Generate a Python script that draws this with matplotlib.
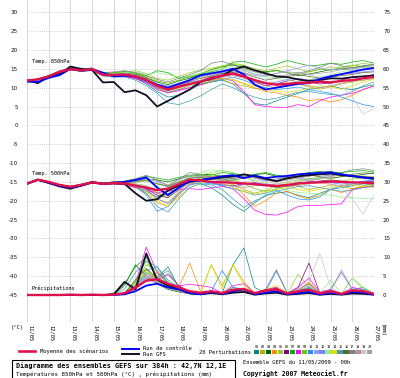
import matplotlib
matplotlib.use('Agg')
import matplotlib.pyplot as plt
from matplotlib.patches import Rectangle
from matplotlib.lines import Line2D
from matplotlib.transforms import blended_transform_factory, ScaledTranslation

# ---------------- data ----------------
hours = [0, 12, 24, 36, 48, 60, 72, 84, 96, 108, 120, 132, 144, 156, 168, 180, 192,
         204, 216, 228, 240, 252, 264, 276, 288, 300, 312, 324, 336, 348, 360, 372, 384]
date_labels = ["11/05", "12/05", "13/05", "14/05", "15/05", "16/05", "17/05", "18/05", "19/05",
               "20/05", "21/05", "22/05", "23/05", "24/05", "25/05", "26/05", "27/05"]
left_ticks = [30, 25, 20, 15, 10, 5, 0, -5, -10, -15, -20, -25, -30, -35, -40, -45]
right_ticks = [75, 70, 65, 60, 55, 50, 45, 40, 35, 30, 25, 20, 15, 10, 5, 0]

mean_850 = [11.9, 12.2, 13.0, 14.2, 14.9, 14.6, 14.9, 13.4, 13.4, 13.5, 13.0, 12.1, 10.5, 9.5, 10.3, 11.0, 11.6,
            12.6, 13.2, 13.8, 13.0, 12.0, 11.2, 10.8, 11.0, 11.3, 11.3, 11.6, 11.4, 11.8, 12.0, 12.5, 12.9]
ctrl_850 = [11.6, 11.5, 12.6, 13.3, 15.0, 14.5, 14.8, 14.0, 13.0, 13.2, 13.0, 12.0, 10.8, 10.0, 11.0, 12.0, 13.3,
            13.8, 14.3, 15.0, 13.5, 10.8, 9.5, 10.0, 10.5, 11.0, 11.2, 12.3, 13.0, 13.6, 14.2, 14.8, 15.2]
gfs_850 = [12.0, 11.2, 13.0, 13.6, 15.6, 15.0, 14.7, 11.4, 11.5, 8.8, 9.3, 8.0, 5.0, 6.5, 8.0, 9.5, 11.5,
           12.4, 13.2, 14.8, 15.6, 14.6, 13.8, 13.0, 12.8, 12.2, 11.8, 12.0, 12.5, 12.4, 12.8, 13.0, 13.2]

mean_500 = [-15.4, -14.4, -15.0, -15.8, -16.3, -15.8, -15.1, -15.5, -15.3, -15.4, -16.0, -16.5, -17.2, -16.8, -15.6, -14.4, -14.6,
            -15.0, -15.1, -15.2, -15.4, -15.6, -15.9, -16.1, -15.8, -15.4, -15.2, -15.1, -14.9, -15.0, -15.1, -15.2, -15.3]
ctrl_500 = [-15.5, -14.5, -15.2, -16.0, -16.5, -16.0, -15.0, -15.5, -15.2, -15.0, -14.5, -13.8, -16.5, -18.5, -16.5, -14.8, -14.5,
            -14.0, -13.5, -13.2, -14.0, -13.3, -14.0, -13.6, -13.4, -13.0, -12.8, -12.6, -12.5, -13.0, -13.4, -13.8, -14.2]
gfs_500 = [-15.5, -14.4, -15.3, -16.2, -16.8, -16.0, -15.2, -15.5, -15.4, -15.5, -18.0, -20.0, -19.6, -17.3, -16.0, -15.0, -14.5,
           -14.2, -13.8, -13.5, -13.0, -13.5, -14.2, -14.8, -14.0, -13.5, -13.2, -13.0, -12.8, -13.2, -13.5, -13.8, -14.0]

mean_pr = [0, 0, 0, 0, 0.1, 0, 0.1, 0, 0.1, 0.5, 2.0, 3.8, 4.2, 3.0, 2.0, 1.0, 0.6,
           1.0, 0.5, 1.4, 1.6, 0.5, 1.2, 1.5, 0.4, 1.0, 1.4, 0.4, 1.0, 0.3, 1.2, 1.0, 0.3]
ctrl_pr = [0, 0, 0, 0, 0, 0, 0, 0, 0, 0.2, 1.0, 2.5, 3.0, 2.0, 1.5, 0.5, 0.2,
           0.8, 0.3, 1.0, 1.5, 0.2, 0.6, 1.0, 0.2, 0.5, 0.8, 0.1, 0.5, 0.2, 0.8, 0.6, 0.1]
gfs_pr = [0, 0, 0, 0, 0, 0, 0, 0, 0.2, 3.5, 1.5, 11.0, 4.0, 2.5, 1.5, 0.5, 0.2,
          0.5, 0.2, 0.6, 0.8, 0.1, 0.4, 0.6, 0.1, 0.3, 0.5, 0.1, 0.3, 0.1, 0.4, 0.3, 0.1]

pert_850 = [
    [11.8, 12.1, 12.9, 14.0, 14.7, 14.4, 14.6, 13.2, 13.0, 13.2, 12.5, 11.0, 9.0, 7.5, 8.0, 9.5, 10.8, 11.5, 12.0, 11.0, 8.5, 5.8, 5.4, 6.5, 7.5, 8.5, 9.5, 10.0, 10.5, 9.8, 9.5, 10.2, 10.8],
    [11.9, 12.2, 13.1, 14.3, 15.0, 14.7, 15.0, 13.7, 13.8, 14.0, 13.6, 12.8, 11.0, 10.2, 11.0, 12.0, 12.5, 13.0, 12.2, 11.0, 10.5, 9.8, 9.5, 10.2, 10.8, 11.0, 10.2, 9.6, 10.2, 11.0, 11.5, 12.0, 12.4],
    [11.9, 12.3, 13.2, 14.4, 15.1, 14.8, 15.1, 13.8, 13.6, 13.9, 13.5, 12.6, 11.5, 10.8, 11.8, 12.5, 13.5, 14.8, 15.6, 16.0, 15.4, 14.6, 14.2, 14.6, 14.0, 13.2, 13.6, 14.2, 14.8, 15.0, 15.3, 15.8, 16.2],
    [11.8, 12.0, 12.8, 14.0, 14.7, 14.4, 14.7, 13.5, 13.0, 13.8, 13.2, 11.8, 9.8, 8.6, 9.5, 10.0, 10.8, 11.5, 12.5, 12.2, 11.0, 10.0, 9.0, 8.6, 8.0, 7.5, 6.5, 7.0, 6.2, 6.8, 8.0, 9.5, 10.5],
    [11.9, 12.2, 13.0, 14.1, 14.9, 14.6, 14.8, 13.6, 13.8, 14.2, 14.5, 13.8, 12.5, 12.0, 13.0, 14.0, 14.6, 15.2, 15.8, 16.5, 16.0, 15.0, 14.5, 15.2, 15.8, 15.0, 14.2, 14.8, 15.5, 15.2, 15.8, 16.5, 16.0],
    [11.9, 12.1, 12.9, 14.2, 14.8, 14.5, 14.8, 13.3, 13.2, 13.0, 12.5, 11.5, 10.0, 9.2, 10.0, 11.0, 11.8, 12.0, 13.0, 13.5, 12.8, 11.5, 10.5, 11.0, 11.8, 12.2, 11.5, 11.0, 11.2, 12.0, 12.8, 13.0, 13.5],
    [11.8, 12.2, 13.1, 14.2, 14.9, 14.7, 15.0, 13.9, 14.0, 14.3, 13.8, 13.2, 14.5, 14.0, 12.5, 12.8, 13.5, 14.2, 15.0, 16.8, 17.0, 16.2, 15.5, 16.2, 17.2, 16.5, 15.8, 16.0, 16.5, 16.2, 16.8, 17.2, 16.5],
    [11.8, 12.0, 12.8, 13.9, 14.7, 14.4, 14.6, 13.2, 13.0, 13.0, 12.4, 11.3, 9.5, 8.6, 9.2, 10.0, 10.8, 11.8, 12.5, 11.8, 9.0, 5.5, 5.0, 4.8, 4.8, 5.5, 5.0, 6.5, 7.5, 8.0, 8.5, 9.5, 10.5],
    [11.9, 12.3, 13.1, 14.3, 15.0, 14.8, 15.1, 13.9, 13.8, 14.1, 13.8, 13.0, 11.8, 11.2, 12.0, 13.0, 13.8, 14.8, 15.5, 16.2, 15.8, 14.8, 14.0, 14.5, 14.0, 13.5, 14.2, 15.0, 14.6, 15.5, 16.0, 15.6, 15.2],
    [11.8, 12.0, 12.9, 14.1, 14.8, 14.4, 14.6, 13.3, 13.3, 13.2, 12.8, 11.6, 10.0, 8.8, 9.5, 10.5, 11.0, 11.6, 12.2, 12.8, 12.0, 10.8, 10.0, 9.5, 9.8, 10.2, 9.5, 9.0, 8.5, 7.5, 6.5, 5.5, 5.0],
    [11.9, 12.2, 13.0, 14.2, 14.9, 14.6, 15.0, 13.7, 13.6, 13.8, 13.4, 12.3, 11.0, 10.5, 11.2, 12.0, 12.8, 13.5, 14.0, 14.5, 14.0, 13.2, 13.0, 13.8, 14.5, 15.2, 16.0, 15.2, 14.8, 15.0, 14.6, 15.0, 15.5],
    [11.8, 12.1, 12.9, 14.1, 14.8, 14.5, 14.8, 13.5, 13.3, 13.5, 13.1, 12.0, 10.4, 9.6, 10.5, 11.5, 12.0, 13.0, 13.6, 14.0, 13.0, 11.6, 11.0, 11.5, 12.2, 12.5, 12.0, 12.6, 13.2, 13.6, 13.8, 14.2, 14.5],
    [11.9, 12.2, 13.0, 14.2, 14.9, 14.6, 14.9, 13.6, 13.7, 14.0, 14.2, 13.5, 14.0, 13.5, 12.8, 13.2, 13.8, 14.5, 15.0, 15.5, 14.8, 13.8, 13.0, 12.6, 12.0, 11.5, 12.0, 12.8, 13.5, 14.2, 14.8, 15.5, 16.0],
    [11.8, 12.1, 12.9, 14.0, 14.8, 14.5, 14.7, 13.4, 13.2, 13.4, 13.0, 11.8, 10.2, 9.0, 9.8, 10.6, 11.2, 11.8, 12.5, 12.0, 11.2, 10.4, 9.6, 9.0, 8.8, 9.2, 9.8, 10.5, 10.2, 9.6, 10.5, 11.5, 12.2],
    [11.8, 12.0, 12.8, 13.9, 14.7, 14.3, 14.5, 13.1, 12.8, 12.8, 12.0, 10.5, 8.5, 6.0, 5.5, 6.5, 7.8, 9.5, 11.0, 10.0, 8.5, 7.5, 6.8, 7.2, 8.0, 8.8, 9.0, 8.5, 8.2, 8.0, 9.0, 10.5, 11.5],
    [11.9, 12.2, 13.0, 14.2, 14.9, 14.6, 14.9, 13.6, 13.5, 13.6, 13.2, 12.2, 10.8, 10.0, 10.8, 11.6, 12.5, 13.2, 13.8, 14.2, 13.8, 12.8, 12.0, 12.5, 13.0, 13.4, 13.0, 12.5, 12.8, 13.2, 13.5, 14.0, 14.2],
    [11.9, 12.3, 13.2, 14.5, 15.2, 14.9, 15.3, 14.0, 14.2, 14.5, 14.0, 13.2, 12.2, 11.5, 12.5, 13.5, 14.5, 16.5, 17.0, 16.0, 15.0, 14.2, 13.5, 13.0, 13.4, 13.8, 14.5, 15.4, 16.5, 15.8, 15.2, 15.6, 16.2],
    [11.8, 12.1, 12.9, 14.0, 14.8, 14.4, 14.6, 13.3, 13.1, 13.3, 12.9, 11.8, 10.2, 9.4, 10.2, 11.0, 11.5, 12.2, 12.8, 13.2, 12.5, 11.4, 10.5, 10.0, 10.5, 11.0, 10.5, 10.0, 10.5, 11.2, 11.8, 12.0, 12.5],
    [11.9, 12.2, 13.0, 14.2, 14.9, 14.6, 14.9, 13.6, 13.4, 13.7, 13.3, 12.4, 11.0, 10.2, 11.0, 11.8, 12.6, 13.4, 14.2, 14.8, 14.2, 13.0, 12.2, 12.8, 13.5, 14.0, 13.5, 12.8, 12.2, 10.5, 7.5, 3.0, 4.5],
    [11.8, 12.1, 12.9, 14.1, 14.8, 14.5, 14.8, 13.5, 13.4, 13.6, 13.2, 12.2, 10.8, 10.0, 10.8, 11.8, 12.8, 13.8, 14.5, 15.2, 14.5, 13.5, 13.2, 13.8, 14.2, 14.0, 13.5, 13.8, 14.2, 14.8, 15.0, 15.4, 15.8],
]

pert_500 = [
    [-15.4, -14.4, -15.0, -15.8, -16.2, -15.7, -15.2, -15.6, -15.5, -15.6, -16.2, -17.5, -19.0, -18.2, -16.5, -15.2, -15.5, -16.5, -18.5, -21.0, -22.8, -20.5, -18.5, -18.0, -17.6, -18.5, -19.2, -18.0, -17.0, -16.5, -16.0, -15.5, -15.8],
    [-15.4, -14.5, -15.1, -15.9, -16.4, -15.9, -15.2, -15.4, -15.0, -15.2, -15.5, -16.8, -19.5, -20.5, -17.5, -15.0, -14.0, -13.5, -14.5, -15.8, -17.0, -18.0, -17.2, -16.0, -15.5, -16.2, -17.0, -16.5, -15.8, -16.2, -16.8, -16.0, -15.6],
    [-15.4, -14.4, -15.0, -15.7, -16.2, -15.6, -15.0, -15.3, -15.0, -15.0, -14.8, -14.2, -14.5, -15.0, -14.2, -13.5, -13.2, -13.0, -13.5, -14.0, -13.8, -13.0, -12.8, -13.5, -14.2, -13.6, -13.0, -12.5, -12.2, -12.8, -13.5, -13.0, -12.6],
    [-15.4, -14.4, -15.0, -15.8, -16.3, -15.8, -15.1, -15.5, -15.3, -15.6, -16.5, -18.0, -20.5, -21.5, -18.5, -15.5, -14.5, -13.5, -13.8, -15.5, -18.5, -21.5, -20.0, -18.0, -17.5, -18.8, -19.5, -18.5, -17.0, -17.8, -17.0, -16.2, -16.0],
    [-15.4, -14.3, -14.9, -15.7, -16.2, -15.7, -15.0, -15.4, -15.2, -15.2, -15.0, -14.8, -15.5, -16.0, -15.0, -14.0, -13.2, -12.5, -12.0, -12.5, -13.5, -15.0, -16.0, -15.5, -15.0, -14.5, -14.0, -14.5, -15.0, -14.8, -14.2, -14.0, -14.5],
    [-15.4, -14.4, -15.0, -15.8, -16.3, -15.8, -15.1, -15.5, -15.3, -15.4, -15.8, -16.8, -18.5, -19.2, -17.0, -15.0, -14.8, -15.2, -15.8, -16.0, -15.5, -15.2, -15.8, -16.5, -16.2, -15.6, -15.0, -14.8, -14.5, -14.8, -15.2, -15.0, -14.8],
    [-15.4, -14.4, -15.0, -15.8, -16.2, -15.7, -15.0, -15.3, -15.0, -14.8, -14.2, -13.5, -14.0, -14.5, -13.8, -13.2, -13.0, -13.2, -12.5, -12.8, -13.5, -13.0, -12.5, -13.2, -13.8, -13.0, -12.5, -12.2, -12.8, -12.5, -12.2, -12.0, -12.4],
    [-15.5, -14.5, -15.1, -15.9, -16.5, -16.0, -15.3, -15.7, -15.5, -15.8, -16.5, -17.2, -17.8, -17.5, -17.0, -16.8, -17.0, -16.6, -16.2, -16.8, -19.5, -22.5, -23.6, -23.8, -23.0, -21.5, -21.2, -21.2, -21.0, -20.8, -17.0, -16.5, -16.2],
    [-15.4, -14.4, -15.0, -15.8, -16.3, -15.8, -15.1, -15.4, -15.2, -15.3, -15.5, -16.0, -18.0, -19.0, -16.8, -14.8, -13.8, -13.0, -13.6, -14.5, -15.5, -16.8, -17.5, -16.8, -16.0, -15.0, -14.2, -13.8, -14.2, -13.6, -13.2, -13.5, -13.8],
    [-15.4, -14.4, -15.0, -15.8, -16.3, -15.8, -15.1, -15.6, -15.4, -15.5, -16.2, -18.5, -22.8, -21.5, -18.0, -15.8, -15.2, -15.5, -16.0, -16.8, -17.5, -18.5, -18.0, -17.2, -18.5, -19.5, -19.8, -19.0, -17.0, -16.0, -15.5, -14.8, -14.5],
    [-15.4, -14.4, -15.0, -15.8, -16.2, -15.7, -15.0, -15.4, -15.2, -15.1, -14.8, -14.0, -15.0, -16.5, -15.2, -14.0, -13.5, -13.8, -14.5, -14.0, -13.2, -14.0, -14.8, -14.2, -13.5, -13.8, -14.5, -14.0, -13.2, -13.0, -13.6, -14.2, -14.0],
    [-15.4, -14.4, -15.0, -15.8, -16.3, -15.8, -15.1, -15.5, -15.3, -15.5, -16.0, -17.0, -19.5, -20.8, -18.0, -15.8, -15.0, -15.2, -15.8, -16.2, -15.8, -15.2, -15.5, -16.0, -15.8, -15.4, -15.0, -14.8, -15.2, -15.6, -15.2, -15.0, -15.4],
    [-15.4, -14.3, -14.9, -15.7, -16.2, -15.7, -15.0, -15.4, -15.1, -15.0, -14.6, -14.5, -16.0, -17.5, -15.5, -13.5, -12.5, -11.8, -12.0, -12.5, -13.5, -14.5, -15.5, -16.5, -17.2, -17.8, -18.0, -18.2, -18.5, -19.0, -19.2, -19.4, -19.5],
    [-15.4, -14.4, -15.0, -15.8, -16.3, -15.8, -15.1, -15.5, -15.4, -15.6, -16.2, -17.5, -20.0, -21.5, -19.0, -16.5, -15.2, -14.8, -15.5, -16.5, -17.5, -18.2, -17.8, -17.0, -16.5, -17.0, -17.5, -17.0, -16.5, -16.0, -15.8, -16.2, -16.5],
    [-15.4, -14.4, -15.0, -15.8, -16.3, -15.8, -15.1, -15.5, -15.3, -15.4, -16.0, -18.0, -21.5, -23.0, -19.5, -16.5, -15.5, -15.8, -17.0, -19.5, -21.8, -20.0, -18.8, -17.5, -16.8, -16.2, -16.0, -16.5, -17.0, -17.5, -17.2, -16.5, -16.0],
    [-15.4, -14.4, -15.0, -15.8, -16.2, -15.7, -15.0, -15.4, -15.2, -15.2, -15.0, -14.5, -15.5, -16.2, -15.0, -14.0, -13.8, -14.2, -14.8, -14.5, -14.0, -13.5, -14.0, -14.6, -14.2, -13.6, -13.2, -13.6, -14.0, -13.6, -13.0, -12.6, -12.8],
    [-15.4, -14.3, -14.9, -15.7, -16.2, -15.6, -14.9, -15.3, -15.0, -14.8, -14.2, -13.2, -14.5, -16.0, -14.2, -12.5, -13.0, -13.8, -14.5, -14.0, -13.5, -13.8, -14.5, -15.0, -14.5, -14.0, -13.5, -13.0, -13.5, -12.5, -11.8, -11.5, -12.0],
    [-15.4, -14.4, -15.0, -15.8, -16.3, -15.8, -15.1, -15.5, -15.3, -15.4, -15.8, -16.5, -18.0, -18.5, -16.5, -15.0, -14.8, -15.0, -15.5, -16.0, -16.5, -16.0, -15.5, -15.8, -16.2, -16.0, -15.5, -15.2, -15.6, -16.0, -15.8, -15.5, -15.2],
    [-15.4, -14.4, -15.0, -15.8, -16.3, -15.8, -15.1, -15.5, -15.3, -15.3, -15.5, -16.0, -17.0, -18.5, -16.8, -15.2, -14.5, -14.2, -14.8, -15.2, -15.0, -14.6, -15.0, -15.5, -15.2, -14.8, -14.6, -15.0, -15.4, -16.5, -19.5, -23.5, -18.5],
    [-15.4, -14.4, -15.0, -15.8, -16.2, -15.7, -15.0, -15.4, -15.2, -15.1, -14.8, -14.0, -14.8, -15.8, -14.5, -13.2, -13.5, -14.0, -14.2, -13.8, -13.5, -14.0, -14.6, -14.2, -13.8, -14.2, -14.8, -14.2, -13.6, -13.2, -13.5, -13.8, -13.5],
]

pert_pr = [
    [0, 0, 0, 0, 0, 0, 0, 0, 0, 0.5, 3.0, 6.0, 4.5, 7.5, 2.0, 0.5, 0.3, 1.0, 0.5, 8.0, 12.5, 2.0, 0.5, 1.5, 0.3, 1.0, 2.0, 0.3, 1.0, 0.2, 1.5, 2.0, 0.3],
    [0, 0, 0, 0, 0, 0, 0, 0, 0, 0.3, 2.0, 7.0, 3.0, 2.0, 1.0, 0.5, 0.5, 8.0, 2.5, 8.0, 3.5, 0.5, 1.0, 2.0, 0.3, 1.5, 3.0, 0.5, 1.2, 0.3, 1.0, 1.5, 0.2],
    [0, 0, 0, 0, 0, 0, 0, 0, 0.2, 2.5, 8.0, 5.0, 3.0, 1.5, 0.8, 0.3, 0.2, 0.8, 0.2, 1.5, 1.0, 0.2, 0.8, 1.2, 0.2, 0.8, 1.5, 0.2, 0.5, 0.1, 0.8, 1.0, 0.1],
    [0, 0, 0, 0, 0, 0, 0, 0, 0, 0.3, 1.5, 4.0, 6.0, 3.0, 2.0, 8.5, 1.0, 0.5, 0.3, 1.0, 0.8, 0.2, 0.6, 1.5, 0.3, 1.0, 3.5, 0.5, 0.8, 0.2, 1.0, 0.8, 0.2],
    [0, 0, 0, 0, 0, 0, 0, 0, 0, 0.5, 4.0, 9.0, 5.0, 2.5, 1.5, 0.5, 0.3, 1.0, 0.5, 2.0, 1.0, 0.3, 1.5, 2.0, 0.3, 5.5, 2.0, 0.3, 1.0, 0.2, 4.5, 2.0, 0.3],
    [0, 0, 0, 0, 0, 0, 0, 0, 0, 0.2, 2.0, 5.0, 4.0, 5.5, 2.5, 0.8, 0.3, 0.5, 0.3, 1.5, 1.2, 0.3, 1.0, 1.8, 0.5, 2.0, 8.5, 0.5, 1.0, 0.3, 1.0, 0.8, 0.2],
    [0, 0, 0, 0, 0, 0, 0, 0, 0.5, 3.0, 7.5, 10.0, 4.0, 2.0, 1.0, 0.3, 0.2, 0.5, 0.2, 1.0, 1.5, 0.2, 0.5, 0.8, 0.1, 0.5, 1.0, 0.1, 0.5, 0.1, 1.5, 1.0, 0.1],
    [0, 0, 0, 0, 0, 0, 0, 0, 0, 0.5, 3.0, 12.7, 6.0, 3.0, 2.5, 2.8, 2.5, 2.0, 0.5, 2.5, 3.0, 0.5, 1.5, 2.0, 0.3, 2.0, 4.5, 0.8, 1.5, 0.3, 2.0, 1.5, 0.3],
    [0, 0, 0, 0, 0, 0, 0, 0, 0, 0.5, 3.5, 8.0, 6.5, 3.5, 1.5, 0.5, 0.3, 0.8, 0.4, 1.5, 1.0, 0.3, 1.2, 1.5, 0.3, 1.2, 2.0, 0.3, 0.8, 0.2, 1.2, 1.2, 0.2],
    [0, 0, 0, 0, 0, 0, 0, 0, 0, 0.3, 2.0, 6.5, 7.5, 3.0, 1.5, 0.5, 0.4, 1.0, 6.5, 2.0, 1.5, 0.3, 1.0, 6.3, 0.5, 1.0, 2.0, 0.5, 1.0, 0.3, 1.0, 1.5, 0.3],
    [0, 0, 0, 0, 0, 0, 0, 0, 0, 0.2, 1.5, 4.5, 3.5, 2.0, 1.0, 0.3, 0.3, 0.8, 0.3, 1.2, 1.0, 0.3, 0.8, 1.5, 0.3, 1.2, 2.5, 0.3, 1.0, 6.7, 1.5, 1.0, 0.2],
    [0, 0, 0, 0, 0, 0, 0, 0, 0, 0.2, 1.8, 5.0, 4.0, 2.5, 1.2, 0.4, 0.3, 0.6, 0.3, 1.0, 0.8, 0.2, 0.6, 1.2, 0.2, 0.8, 1.8, 0.2, 0.8, 0.2, 0.8, 0.6, 0.1],
    [0, 0, 0, 0, 0, 0, 0, 0, 0, 0.3, 2.5, 6.0, 5.5, 3.0, 1.5, 0.5, 0.3, 0.8, 0.3, 1.5, 1.2, 0.3, 1.0, 1.5, 0.3, 1.0, 2.0, 0.4, 4.0, 0.3, 4.5, 1.5, 0.2],
    [0, 0, 0, 0, 0, 0, 0, 0, 0, 0.4, 3.0, 6.5, 4.0, 2.0, 1.0, 0.5, 0.5, 8.0, 1.5, 8.0, 2.5, 0.5, 1.5, 2.5, 0.5, 1.5, 3.0, 0.5, 1.0, 0.3, 1.0, 0.8, 0.2],
    [0, 0, 0, 0, 0, 0, 0, 0, 0.2, 1.5, 6.0, 9.0, 7.5, 4.0, 2.0, 0.8, 0.5, 1.0, 0.5, 2.0, 1.5, 0.3, 1.0, 1.5, 0.3, 1.0, 2.0, 0.3, 0.8, 0.2, 1.0, 1.0, 0.2],
    [0, 0, 0, 0, 0, 0, 0, 0, 0, 0.5, 4.0, 7.0, 4.5, 2.0, 1.0, 0.4, 0.3, 0.6, 0.3, 1.0, 0.8, 0.2, 0.6, 1.0, 0.2, 0.6, 1.2, 0.2, 0.5, 0.1, 0.6, 0.6, 0.1],
    [0, 0, 0, 0, 0, 0, 0, 0, 0, 0.3, 2.5, 5.5, 4.5, 6.5, 2.0, 0.6, 0.4, 1.0, 0.5, 1.5, 1.5, 0.5, 1.5, 6.7, 0.5, 1.5, 3.0, 0.5, 1.5, 6.0, 1.5, 1.0, 0.3],
    [0, 0, 0, 0, 0, 0, 0, 0, 0, 0.2, 1.5, 4.0, 3.5, 2.0, 1.0, 0.4, 0.3, 0.6, 0.3, 1.0, 1.0, 0.2, 0.6, 1.0, 0.2, 0.6, 1.5, 0.2, 0.6, 0.2, 0.8, 0.6, 0.1],
    [0, 0, 0, 0, 0, 0, 0, 0, 0, 0.3, 2.0, 5.0, 4.0, 2.0, 1.0, 0.5, 0.3, 0.8, 0.3, 1.2, 1.0, 0.3, 0.8, 1.5, 0.3, 1.5, 3.5, 11.0, 2.0, 0.3, 1.2, 1.0, 0.2],
    [0, 0, 0, 0, 0, 0, 0, 0, 0, 0.2, 1.8, 4.5, 3.0, 2.0, 1.0, 0.4, 0.3, 0.6, 0.3, 1.2, 1.0, 0.2, 0.8, 1.2, 0.2, 0.8, 1.8, 0.3, 0.8, 0.2, 1.0, 0.8, 0.1],
]

pert_names = ["01", "02", "03", "04", "05", "06", "07", "08", "09", "10",
              "11", "12", "13", "14", "15", "16", "17", "18", "19", "20"]
pert_colors = ["#008b8b", "#b8b000", "#006400", "#ff8c00", "#9acd32", "#800080", "#00b000", "#ff00ff",
               "#66cc00", "#1e90ff", "#9999ff", "#8080ff", "#90ee90", "#e0e000", "#3ca0b4", "#556b2f",
               "#808080", "#c09090", "#c8c8c8", "#a0a0a0"]

# ---------------- figure ----------------
W, H = 400, 378
fig = plt.figure(figsize=(W / 100, H / 100), dpi=100)
fig.patch.set_facecolor('white')

def fx(x):
    return x / W

def fy(y):
    return 1 - y / H

AX_L, AX_R, AX_T, AX_B = 27, 374, 0, 322
ax = fig.add_axes([fx(AX_L), fy(AX_B), (AX_R - AX_L) / W, (AX_B - AX_T) / H])
YTOP, YBOT = 33.26, -52.16
days = [h / 24 for h in hours]
ax.set_xlim(0, 16)
ax.set_ylim(YBOT, YTOP)
ax2 = ax.twinx()
ax2.set_ylim(YBOT + 45, YTOP + 45)

for a in (ax, ax2):
    for s in a.spines.values():
        s.set_visible(False)

ax.set_xticks(list(range(17)))
ax.set_xticklabels([])
ax.tick_params(axis='x', length=0)
ax.set_yticks(left_ticks)
ax.set_yticklabels([str(t) for t in left_ticks], fontsize=4.1, color='#111111')
ax.tick_params(axis='y', length=0, pad=6.5)
ax2.set_yticks(right_ticks)
ax2.set_yticklabels([str(t) for t in right_ticks], fontsize=4.1, color='#111111')
ax2.tick_params(axis='y', length=0, pad=6.5)
ax.grid(axis='x', color='#d6d6d6', lw=0.7, ls='-')
ax.grid(axis='y', color='#c4c4c4', lw=0.6, ls=(0, (1, 1.5)))
ax.set_axisbelow(True)

# perturbations
for vals, c in zip(pert_850, pert_colors):
    ax.plot(days, vals, color=c, lw=0.5, zorder=2)
for vals, c in zip(pert_500, pert_colors):
    ax.plot(days, vals, color=c, lw=0.5, zorder=2)
for vals, c in zip(pert_pr, pert_colors):
    ax2.plot(days, vals, color=c, lw=0.5, zorder=2)

# GFS / control / mean
for dat, a in ((gfs_850, ax), (gfs_500, ax), (gfs_pr, ax2)):
    a.plot(days, dat, color='#101028', lw=1.3, zorder=3)
for dat, a in ((ctrl_850, ax), (ctrl_500, ax), (ctrl_pr, ax2)):
    a.plot(days, dat, color='#0000ff', lw=1.3, zorder=4)
for dat, a in ((mean_850, ax), (mean_500, ax), (mean_pr, ax2)):
    a.plot(days, dat, color='#e0104c', lw=1.7, zorder=5)

mono = 'DejaVu Sans Mono'
# in-plot labels
fig.text(fx(32), fy(61), "Temp. 850hPa", fontsize=3.8, family=mono, va='center', ha='left')
fig.text(fx(32), fy(173), "Temp. 500hPa", fontsize=3.8, family=mono, va='center', ha='left')
fig.text(fx(32), fy(288), "Précipitations", fontsize=3.8, family=mono, va='center', ha='left')

# date labels
trans = blended_transform_factory(ax.transData, ax.transAxes) + \
    ScaledTranslation(3 / 100, -3 / 100, fig.dpi_scale_trans)
for d, lab in enumerate(date_labels):
    ax.text(d, 0, lab, transform=trans, rotation=270, ha='center', va='top',
            fontsize=3.9, family=mono, clip_on=False)
fig.text(fx(11), fy(327), "(°C)", fontsize=3.9, family=mono, va='center', ha='left')
fig.text(fx(382), fy(324), "(mm)", fontsize=3.9, family=mono, va='top', ha='center', rotation=270)

# legend
fig.add_artist(Line2D([fx(19), fx(35)], [fy(351), fy(351)], color='#e0104c', lw=1.9))
fig.text(fx(40), fy(351), "Moyenne des scénarios", fontsize=4.0, family=mono, va='center', ha='left')
fig.add_artist(Line2D([fx(122), fx(139)], [fy(349), fy(349)], color='#0000ff', lw=1.4))
fig.add_artist(Line2D([fx(122), fx(139)], [fy(353.5), fy(353.5)], color='#101028', lw=1.4))
fig.text(fx(143), fy(349), "Run de contrôle", fontsize=4.0, family=mono, va='center', ha='left')
fig.text(fx(143), fy(354), "Run GFS", fontsize=4.0, family=mono, va='center', ha='left')
fig.text(fx(199), fy(352), "20 Perturbations", fontsize=3.9, family=mono, va='center', ha='left')
cw = 5.95
for k, (nm, c) in enumerate(zip(pert_names, pert_colors)):
    x0 = 254 + k * cw
    fig.add_artist(Rectangle((fx(x0), fy(354)), (cw - 0.6) / W, 4.5 / H, transform=fig.transFigure,
                             facecolor=c, edgecolor='none'))
    fig.text(fx(x0 + cw / 2), fy(347), nm, fontsize=2.6, family=mono, va='center', ha='center')

# info box
fig.add_artist(Rectangle((fx(12), fy(379)), (235 - 12) / W, 19 / H, transform=fig.transFigure,
                         facecolor='white', edgecolor='black', lw=0.8))
fig.text(fx(16), fy(366), "Diagramme des ensembles GEFS sur 384h : 42,7N 12,1E", fontsize=4.9,
         family=mono, weight='bold', va='center', ha='left')
fig.text(fx(16), fy(374.5), "Températures 850hPa et 500hPa (°C) , précipitations (mm)", fontsize=4.25,
         family=mono, va='center', ha='left')
fig.text(fx(243), fy(362), "Ensemble GEFS du 11/05/2009 - 00h", fontsize=4.0, family=mono,
         va='center', ha='left')
fig.text(fx(243), fy(374), "Copyright 2007 Meteociel.fr", fontsize=4.7, family=mono, weight='bold',
         va='center', ha='left')

fig.savefig('out.png', dpi=100, facecolor='white')
